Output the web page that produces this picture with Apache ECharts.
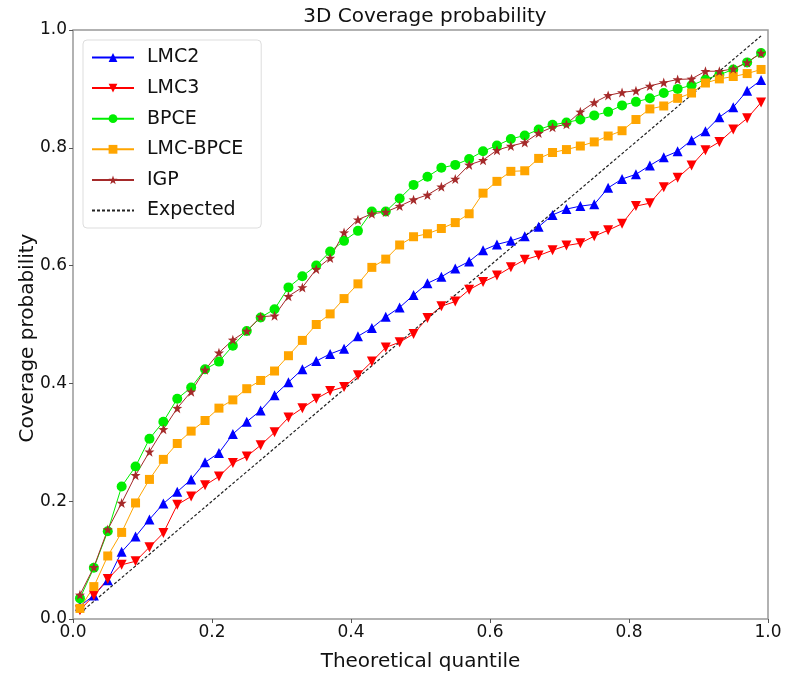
<!DOCTYPE html>
<html>
<head>
<meta charset="utf-8">
<script src="https://cdn.jsdelivr.net/npm/echarts@6/dist/echarts.min.js"></script>
<style>
html,body{margin:0;padding:0;background:#fff;}
#chart{width:790px;height:677px;}
</style>
</head>
<body>
<div id="chart"></div>
<script>
var quantiles = [0.01,0.03,0.05,0.07,0.09,0.11,0.13,0.15,0.17,0.19,0.21,0.23,0.25,0.27,0.29,0.31,0.33,0.35,0.37,0.39,0.41,0.43,0.45,0.47,0.49,0.51,0.53,0.55,0.57,0.59,0.61,0.63,0.65,0.67,0.69,0.71,0.73,0.75,0.77,0.79,0.81,0.83,0.85,0.87,0.89,0.91,0.93,0.95,0.97,0.99];
var expected = [0.01,0.03,0.05,0.07,0.09,0.11,0.13,0.15,0.17,0.19,0.21,0.23,0.25,0.27,0.29,0.31,0.33,0.35,0.37,0.39,0.41,0.43,0.45,0.47,0.49,0.51,0.53,0.55,0.57,0.59,0.61,0.63,0.65,0.67,0.69,0.71,0.73,0.75,0.77,0.79,0.81,0.83,0.85,0.87,0.89,0.91,0.93,0.95,0.97,0.99];
var lmc2 = [0.022,0.040,0.066,0.114,0.140,0.169,0.196,0.216,0.237,0.266,0.282,0.314,0.335,0.354,0.380,0.402,0.424,0.438,0.450,0.459,0.480,0.494,0.513,0.529,0.550,0.570,0.581,0.595,0.607,0.626,0.636,0.642,0.650,0.666,0.686,0.696,0.701,0.704,0.732,0.747,0.755,0.770,0.784,0.794,0.813,0.828,0.852,0.869,0.897,0.915];
var lmc3 = [0.015,0.040,0.068,0.092,0.098,0.122,0.146,0.194,0.208,0.227,0.242,0.265,0.276,0.295,0.317,0.342,0.358,0.374,0.387,0.394,0.414,0.437,0.461,0.470,0.484,0.511,0.531,0.539,0.559,0.572,0.583,0.597,0.610,0.617,0.626,0.634,0.638,0.650,0.660,0.671,0.701,0.706,0.733,0.749,0.770,0.796,0.810,0.831,0.850,0.877];
var bpce = [0.035,0.087,0.149,0.225,0.259,0.306,0.335,0.374,0.393,0.424,0.437,0.464,0.489,0.512,0.526,0.563,0.582,0.600,0.624,0.642,0.659,0.692,0.692,0.714,0.737,0.751,0.766,0.771,0.781,0.794,0.804,0.815,0.821,0.831,0.839,0.843,0.848,0.855,0.861,0.872,0.878,0.884,0.893,0.900,0.906,0.916,0.924,0.933,0.945,0.961];
var lmcbpce = [0.018,0.055,0.107,0.147,0.197,0.237,0.271,0.298,0.319,0.337,0.358,0.372,0.391,0.405,0.421,0.447,0.473,0.500,0.518,0.544,0.569,0.597,0.611,0.635,0.649,0.654,0.663,0.673,0.688,0.723,0.743,0.760,0.761,0.782,0.792,0.797,0.803,0.810,0.820,0.829,0.848,0.866,0.871,0.884,0.893,0.910,0.917,0.921,0.926,0.933];
var igp = [0.041,0.088,0.152,0.197,0.244,0.284,0.322,0.358,0.386,0.423,0.452,0.474,0.489,0.513,0.515,0.548,0.563,0.594,0.613,0.656,0.678,0.688,0.691,0.701,0.712,0.720,0.734,0.747,0.771,0.779,0.796,0.803,0.809,0.825,0.835,0.840,0.861,0.877,0.889,0.894,0.897,0.905,0.911,0.916,0.917,0.930,0.930,0.934,0.945,0.961];
var seriesNames = ['LMC2','LMC3','BPCE','LMC-BPCE','IGP','Expected'];

function pairs(ys){ return quantiles.map(function(x,i){ return [x, ys[i]]; }); }

var FONT = 'DejaVu Sans';
var STAR = 'path://M0,-10L2.35,-3.24L9.51,-3.09L3.8,1.24L5.88,8.09L0,4L-5.88,8.09L-3.8,1.24L-9.51,-3.09L-2.35,-3.24Z';

function mk(name, ys, color, symbol, size, rotate){
  return {
    name: name, type: 'line', data: pairs(ys),
    symbol: symbol, symbolSize: size, symbolRotate: rotate || 0,
    showSymbol: true,
    lineStyle: {color: color, width: 1},
    itemStyle: {color: color, borderWidth: 0},
    animation: false
  };
}

var legendData = seriesNames.map(function(n){
  if (n === 'Expected') return {name: n, itemStyle: {opacity: 0}};
  return {name: n};
});

var chart = echarts.init(document.getElementById('chart'), null, {renderer: 'canvas'});
chart.setOption({
  backgroundColor: '#fff',
  animation: false,
  title: {
    text: '3D Coverage probability', left: 420, top: 2, textAlign: 'center',
    textStyle: {fontFamily: FONT, fontSize: 20, fontWeight: 'normal', color: '#111'}
  },
  grid: {left: 73, right: 22, top: 30, bottom: 51, show: true, borderColor: '#999', borderWidth: 1.5, backgroundColor: 'transparent'},
  graphic: [{
    type: 'text', x: 28, y: 338, rotation: Math.PI / 2,
    style: {text: 'Coverage probability', font: '20px "DejaVu Sans"', fill: '#111', textAlign: 'center', textVerticalAlign: 'middle'}
  }],
  legend: {
    orient: 'vertical', left: 83, top: 40,
    data: legendData,
    itemWidth: 42, itemHeight: 11, itemGap: 11.6,
    padding: [8, 18, 8, 8],
    borderColor: '#ddd', borderWidth: 1, borderRadius: 4, backgroundColor: 'rgba(255,255,255,0.85)',
    textStyle: {fontFamily: FONT, fontSize: 19, color: '#111', padding: [0,0,0,8]}
  },
  xAxis: {
    type: 'value', min: 0, max: 1, interval: 0.2,
    name: 'Theoretical quantile', nameLocation: 'middle', nameGap: 33,
    nameTextStyle: {fontFamily: FONT, fontSize: 20, color: '#111'},
    axisLine: {show: false},
    axisTick: {show: true, length: 4, lineStyle: {color: '#555'}},
    axisLabel: {fontFamily: FONT, fontSize: 17, color: '#111', margin: 5, formatter: function(v){return v.toFixed(1);}},
    splitLine: {show: false}
  },
  yAxis: {
    type: 'value', min: 0, max: 1, interval: 0.2,
    axisLine: {show: false},
    axisTick: {show: true, length: 4, lineStyle: {color: '#555'}},
    axisLabel: {fontFamily: FONT, fontSize: 17, color: '#111', margin: 6, formatter: function(v){return v.toFixed(1);}},
    splitLine: {show: false}
  },
  series: [
    mk('LMC2', lmc2, '#0000ff', 'triangle', 10),
    mk('LMC3', lmc3, '#ff0000', 'triangle', 10, 180),
    mk('BPCE', bpce, '#00ee00', 'circle', 10),
    mk('LMC-BPCE', lmcbpce, '#ffa500', 'rect', 9),
    mk('IGP', igp, '#a52a2a', STAR, 10),
    {
      name: 'Expected', type: 'line', data: pairs(expected), symbol: 'none',
      lineStyle: {color: '#222', width: 1.2, type: [3, 2]},
      itemStyle: {color: '#222'}, animation: false
    }
  ]
});
</script>
</body>
</html>
